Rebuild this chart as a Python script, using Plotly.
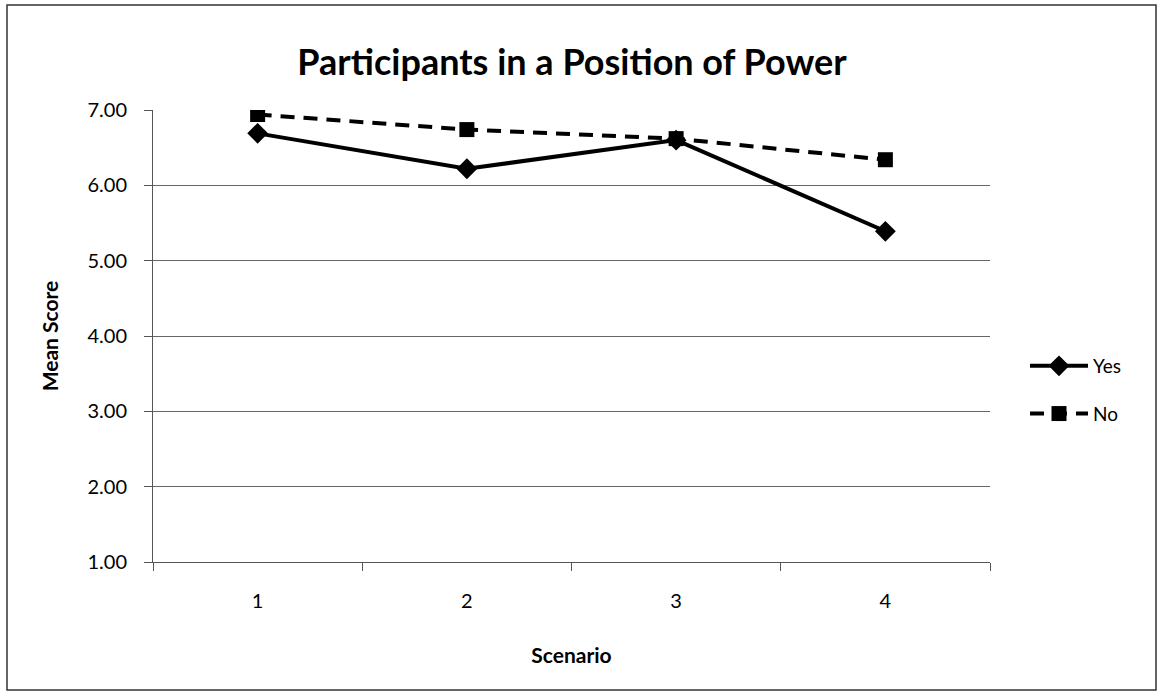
import plotly.graph_objects as go

scenarios = ["1", "2", "3", "4"]
yes_scores = [6.69, 6.22, 6.60, 5.39]
no_scores = [6.94, 6.74, 6.62, 6.34]
y_ticks = [1, 2, 3, 4, 5, 6, 7]

FONT = "Lato"

fig = go.Figure()
fig.add_trace(go.Scatter(
    x=scenarios, y=yes_scores, name="Yes", mode="lines+markers", legendgroup="a",
    line=dict(color="black", width=4),
    marker=dict(symbol="diamond", size=16, color="black"),
))
fig.add_trace(go.Scatter(
    x=scenarios, y=no_scores, name="No", mode="lines+markers", legendgroup="b",
    line=dict(color="black", width=4, dash="14px,9px"),
    marker=dict(symbol="square", size=15, color="black"),
))

W, H = 1160, 693
L, R, T, B = 153, 990, 110, 562

fig.update_layout(
    width=W, height=H,
    margin=dict(l=L, r=W - R, t=T, b=H - B),
    paper_bgcolor="white", plot_bgcolor="white",
    font=dict(family=FONT, color="black", size=20),
    title=dict(text="<b>Participants in a Position of Power</b>",
               x=572 / W, xanchor="center", y=1 - 62 / H, yanchor="middle",
               font=dict(family=FONT, size=36, color="black")),
    showlegend=True,
    legend=dict(x=(1025 - L) / (R - L), y=(B - 390) / (B - T), xanchor="left", yanchor="middle",
                font=dict(family=FONT, size=19), tracegroupgap=20,
                itemwidth=58, bgcolor="rgba(0,0,0,0)"),
    xaxis=dict(
        type="category", tickson="boundaries", ticks="outside", ticklen=8,
        tickcolor="#555", showline=True, linecolor="#555", linewidth=1,
        showgrid=False, range=[-0.5, 3.5],
        title=dict(text="<b>Scenario</b>", font=dict(family=FONT, size=21), standoff=37),
        tickfont=dict(size=20), ticklabelstandoff=21,
    ),
    yaxis=dict(
        range=[1, 7], tickvals=y_ticks, tickformat=".2f",
        ticks="outside", ticklen=8, tickcolor="#555",
        showline=True, linecolor="#555", linewidth=1,
        showgrid=True, gridcolor="#666", gridwidth=1, zeroline=False,
        title=dict(text="<b>Mean Score</b>", font=dict(family=FONT, size=21), standoff=23),
        tickfont=dict(size=20), ticklabelstandoff=13,
    ),
)

pw, ph = R - L, B - T
fig.add_shape(type="rect", xref="paper", yref="paper",
              x0=(7 - L) / pw, x1=(1156 - L) / pw,
              y0=(B - 690) / ph, y1=(B - 5) / ph,
              line=dict(color="#333", width=1.5), layer="below")

fig.write_html("out.html", config={"displayModeBar": False},
               post_script="document.body.style.margin='0';document.body.style.overflow='hidden';")
